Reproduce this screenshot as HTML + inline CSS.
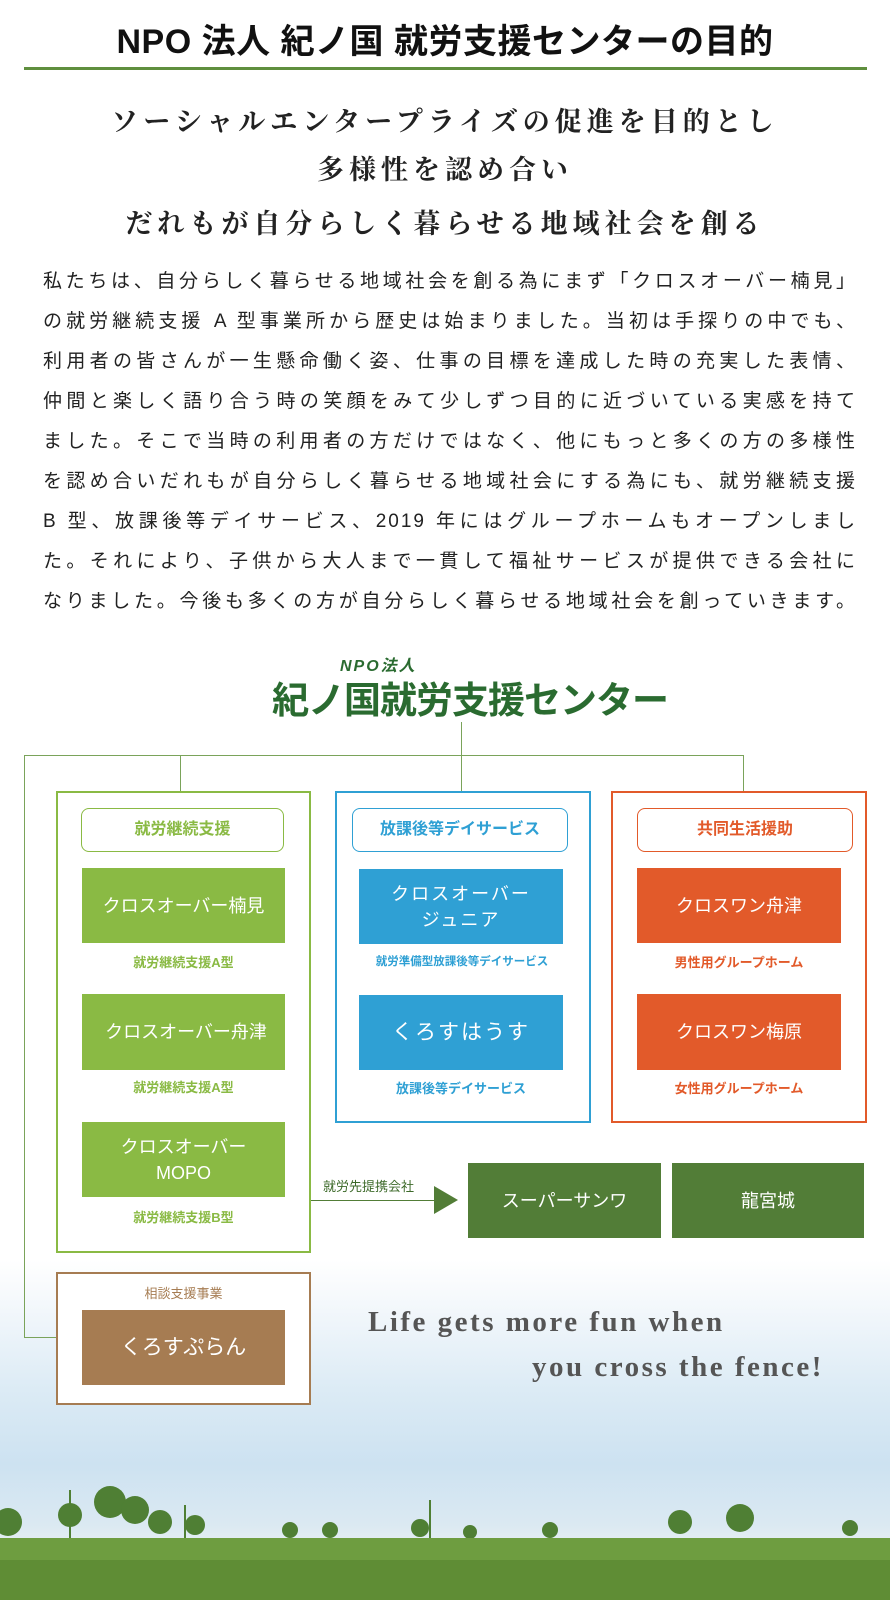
<!DOCTYPE html>
<html><head><meta charset="utf-8"><style>
*{margin:0;padding:0;box-sizing:border-box}
body{width:890px;height:1600px;position:relative;overflow:hidden;background:#fff;font-family:"Liberation Sans","Noto Sans CJK JP",sans-serif}
.a{position:absolute}
.bg{left:0;top:1260px;width:890px;height:340px;background:linear-gradient(180deg,#fff 0%,#f2f7fb 15%,#dcebf5 38%,#cde2f1 60%,#dbe9f2 78%,#e6eff3 84%,#a9c590 88%,#6f9a45 92%,#5d8a34 100%)}
.title{left:0;width:890px;top:14px;text-align:center;font-size:34px;font-weight:bold;color:#111;letter-spacing:0.5px}
.hr{left:24px;top:67px;width:843px;height:3px;background:#5f8f3e}
.ser{left:0;width:890px;text-align:center;font-family:"Liberation Serif","Noto Serif CJK SC",serif;font-size:27px;font-weight:bold;letter-spacing:5px;color:#222}
.p{left:43px;width:814px;font-size:19px;color:#222;line-height:40px;letter-spacing:2px}
.p div{text-align:justify;text-align-last:justify;height:40px}
.ln{background:#7aa35a}
.box{border:2px solid;background:#fff}
.hd{border:1px solid;border-radius:8px;text-align:center;font-weight:bold;font-size:16px;line-height:42px;background:#fff}
.in{color:#fff;text-align:center;font-size:18px;display:flex;align-items:center;justify-content:center;line-height:26px}
.lb{text-align:center;font-size:13px;font-weight:bold}
.tg{font-family:'Liberation Serif',serif;font-size:29px;letter-spacing:2.5px;color:#555;font-weight:bold}
</style></head><body>
<div class="a bg"></div>
<div class="a title">NPO 法人 紀ノ国 就労支援センターの目的</div>
<div class="a hr"></div>
<div class="a ser" style="top:100px">ソーシャルエンタープライズの促進を目的とし</div>
<div class="a ser" style="top:148px">多様性を認め合い</div>
<div class="a ser" style="top:202px">だれもが自分らしく暮らせる地域社会を創る</div>
<div class="a p" style="top:262px">
<div>私たちは、自分らしく暮らせる地域社会を創る為にまず「クロスオーバー楠見」</div>
<div>の就労継続支援 A 型事業所から歴史は始まりました。当初は手探りの中でも、</div>
<div>利用者の皆さんが一生懸命働く姿、仕事の目標を達成した時の充実した表情、</div>
<div>仲間と楽しく語り合う時の笑顔をみて少しずつ目的に近づいている実感を持て</div>
<div>ました。そこで当時の利用者の方だけではなく、他にもっと多くの方の多様性</div>
<div>を認め合いだれもが自分らしく暮らせる地域社会にする為にも、就労継続支援</div>
<div>B 型、放課後等デイサービス、2019 年にはグループホームもオープンしまし</div>
<div>た。それにより、子供から大人まで一貫して福祉サービスが提供できる会社に</div>
<div>なりました。今後も多くの方が自分らしく暮らせる地域社会を創っていきます。</div>
</div>
<!-- logo -->
<div class="a" style="left:340px;top:652px;font-size:16px;font-weight:bold;color:#2a6b30;letter-spacing:2px;font-style:italic">NPO法人</div>
<div class="a" style="left:272px;top:670px;width:382px;font-size:37px;font-weight:bold;color:#2a6b30;letter-spacing:-1px;white-space:nowrap">紀ノ国就労支援センター</div>
<!-- connectors -->
<div class="a ln" style="left:461px;top:722px;width:1px;height:69px"></div>
<div class="a ln" style="left:24px;top:755px;width:720px;height:1px"></div>
<div class="a ln" style="left:180px;top:755px;width:1px;height:36px"></div>
<div class="a ln" style="left:743px;top:755px;width:1px;height:36px"></div>
<div class="a ln" style="left:24px;top:755px;width:1px;height:583px"></div>
<div class="a ln" style="left:24px;top:1337px;width:32px;height:1px"></div>
<!-- green -->
<div class="a box" style="left:56px;top:791px;width:255px;height:462px;border-color:#8aba44"></div>
<div class="a hd" style="left:81px;top:808px;width:203px;height:44px;border-color:#8aba44;color:#8aba44">就労継続支援</div>
<div class="a in" style="left:82px;top:868px;width:203px;height:75px;background:#8aba44">クロスオーバー楠見</div>
<div class="a lb" style="left:82px;top:952px;width:203px;color:#8aba44">就労継続支援A型</div>
<div class="a in" style="left:82px;top:994px;width:203px;height:76px;background:#8aba44">&nbsp;クロスオーバー舟津</div>
<div class="a lb" style="left:82px;top:1077px;width:203px;color:#8aba44">就労継続支援A型</div>
<div class="a in" style="left:82px;top:1122px;width:203px;height:75px;background:#8aba44">クロスオーバー<br>MOPO</div>
<div class="a lb" style="left:82px;top:1207px;width:203px;color:#8aba44">就労継続支援B型</div>
<!-- blue -->
<div class="a box" style="left:335px;top:791px;width:256px;height:332px;border-color:#2fa0d4"></div>
<div class="a hd" style="left:352px;top:808px;width:216px;height:44px;border-color:#2fa0d4;color:#2fa0d4">放課後等デイサービス</div>
<div class="a in" style="left:359px;top:869px;width:204px;height:75px;background:#2fa0d4;letter-spacing:2px">クロスオーバー<br>ジュニア</div>
<div class="a lb" style="left:345px;top:953px;width:234px;color:#2fa0d4;font-size:11.5px">就労準備型放課後等デイサービス</div>
<div class="a in" style="left:359px;top:995px;width:204px;height:75px;background:#2fa0d4;font-size:21px;letter-spacing:2px">くろすはうす</div>
<div class="a lb" style="left:359px;top:1078px;width:204px;color:#2fa0d4">放課後等デイサービス</div>
<!-- orange -->
<div class="a box" style="left:611px;top:791px;width:256px;height:332px;border-color:#e25a2a"></div>
<div class="a hd" style="left:637px;top:808px;width:216px;height:44px;border-color:#e25a2a;color:#e25a2a">共同生活援助</div>
<div class="a in" style="left:637px;top:868px;width:204px;height:75px;background:#e25a2a">クロスワン舟津</div>
<div class="a lb" style="left:637px;top:952px;width:204px;color:#e25a2a">男性用グループホーム</div>
<div class="a in" style="left:637px;top:994px;width:204px;height:76px;background:#e25a2a">クロスワン梅原</div>
<div class="a lb" style="left:637px;top:1078px;width:204px;color:#e25a2a">女性用グループホーム</div>
<!-- arrow -->
<div class="a" style="left:311px;top:1200px;width:126px;height:1px;background:#527d37"></div>
<svg class="a" style="left:434px;top:1186px" width="24" height="28"><polygon points="0,0 24,14 0,28" fill="#527d37"/></svg>
<div class="a" style="left:323px;top:1176px;font-size:13px;color:#3d6a2a">就労先提携会社</div>
<div class="a in" style="left:468px;top:1163px;width:193px;height:75px;background:#527d37">スーパーサンワ</div>
<div class="a in" style="left:672px;top:1163px;width:192px;height:75px;background:#527d37">龍宮城</div>
<!-- brown -->
<div class="a box" style="left:56px;top:1272px;width:255px;height:133px;border-color:#a67c52"></div>
<div class="a" style="left:56px;top:1283px;width:255px;text-align:center;font-size:13px;color:#a67c52">相談支援事業</div>
<div class="a in" style="left:82px;top:1310px;width:203px;height:75px;background:#a67c52;font-size:21px">くろすぷらん</div>
<!-- tagline -->
<div class="a tg" style="left:368px;top:1306px">Life gets more fun when</div>
<div class="a tg" style="left:532px;top:1351px">you cross the fence!</div>
<!-- trees -->
<svg class="a" style="left:0;top:1460px" width="890" height="140">
<g fill="#4f7f34"><circle cx="8" cy="62" r="14"/><circle cx="70" cy="55" r="12"/><circle cx="110" cy="42" r="16"/><circle cx="135" cy="50" r="14"/><circle cx="160" cy="62" r="12"/><circle cx="195" cy="65" r="10"/><circle cx="290" cy="70" r="8"/><circle cx="330" cy="70" r="8"/><circle cx="420" cy="68" r="9"/><circle cx="470" cy="72" r="7"/><circle cx="550" cy="70" r="8"/><circle cx="680" cy="62" r="12"/><circle cx="740" cy="58" r="14"/><circle cx="850" cy="68" r="8"/></g>
<g stroke="#4f7f34" stroke-width="2"><line x1="70" y1="30" x2="70" y2="80"/><line x1="185" y1="45" x2="185" y2="80"/><line x1="430" y1="40" x2="430" y2="80"/></g>
<rect x="0" y="78" width="890" height="62" fill="#6e9d40"/>
<rect x="0" y="100" width="890" height="40" fill="#5f8d35"/>
</svg>
</body></html>
